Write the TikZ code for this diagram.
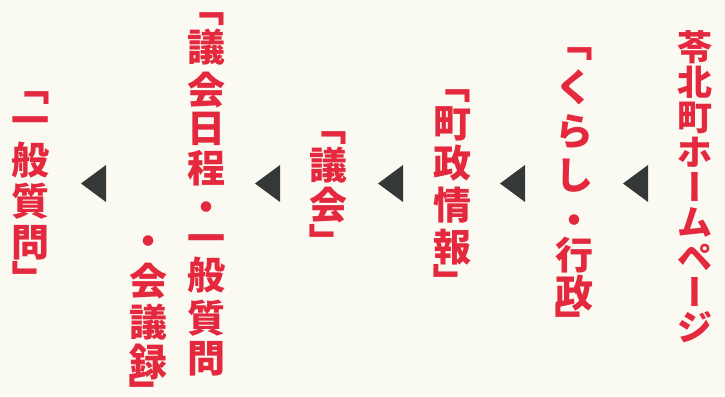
\documentclass[tikz,border=0pt]{standalone}
\usepackage{fontspec}
\newfontfamily\jpv{Noto Sans CJK JP}
\definecolor{bgcream}{RGB}{251,250,242}
\definecolor{jpred}{RGB}{228,40,62}
\definecolor{tricol}{RGB}{52,56,54}
\tikzset{
  jp/.style={text=jpred, inner sep=0pt, anchor=base, font=\jpv\bfseries\fontsize{38}{38}\selectfont},
  jpsmall/.style={jp, font=\jpv\bfseries\fontsize{35}{35}\selectfont},
  jprot/.style={text=jpred, inner sep=0pt, anchor=center, rotate=-90,
    text height=33.44pt, text depth=4.56pt,
    font=\jpv\bfseries\fontsize{38}{38}\selectfont},
  jprotsmall/.style={jprot, text height=30.8pt, text depth=4.2pt,
    font=\jpv\bfseries\fontsize{35}{35}\selectfont},
  tri/.style={fill=tricol, draw=none}
}
% name, x, style, list of char/ycenter
\newcommand\vcolumn[4]{%
  \foreach \ch/\yc [count=\i] in {#4} {%
    \node[#3] (#1-\i) at (#2, {\yc + 0.38*\fsz}) {\ch};
  }%
}
\begin{document}
\begin{tikzpicture}[x=1pt,y=-1pt]
\fill[bgcream] (0,0) rectangle (725,396);
\useasboundingbox (0,0) rectangle (725,396);
% column 1
\def\fsz{35}
\vcolumn{c1}{695}{jpsmall}{苓/47,北/82,町/117,ホ/152,ム/222,ペ/257,ジ/327}
\node[jprotsmall] (c1-bar1) at (695,187) {ー};
\node[jprotsmall] (c1-bar2) at (695,292) {ー};
\def\fsz{38}
% column 2
\node[jprot] (c2-open) at (574,43) {「};
\vcolumn{c2}{574}{jp}{く/87,ら/131,し/175,・/220,行/255,政/293}
\node[jprot] (c2-close) at (574,322) {」};
% column 3
\node[jprot] (c3-open) at (452,85) {「};
\vcolumn{c3}{452}{jp}{町/123,政/163,情/205,報/247}
\node[jprot] (c3-close) at (452,282) {」};
% column 4
\node[jprot] (c4-open) at (328,126) {「};
\vcolumn{c4}{328}{jp}{議/165,会/205}
\node[jprot] (c4-close) at (328,242) {」};
% column 5
\node[jprot] (c5-open) at (206,8) {「};
\vcolumn{c5}{206}{jp}{議/47,会/90,日/128,程/168,・/207,一/238,般/275,質/318,問/358}
\vcolumn{c5b}{148}{jp}{・/241,会/281,議/322,録/362}
\node[jprot] (c5b-close) at (148,392) {」};
% column 6
\node[jprot] (c6-open) at (31,86) {「};
\vcolumn{c6}{31}{jp}{一/120,般/160,質/201,問/242}
\node[jprot] (c6-close) at (31,279) {」};
% triangles
\foreach \xl/\xr [count=\k] in {623/648,500/525,378/403,255/280,81/106}{
  \fill[tri] (\xr,165) -- (\xr,202) -- (\xl,183.5) -- cycle;
}
\end{tikzpicture}
\end{document}
